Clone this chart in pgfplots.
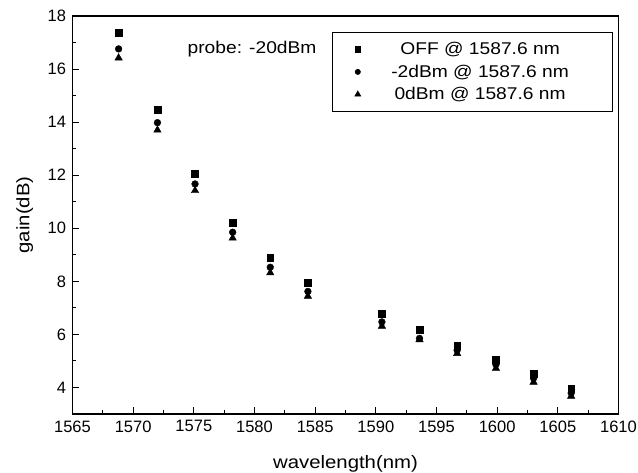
\documentclass[border=0pt]{standalone}
\usepackage{fontspec}
\setmainfont{Liberation Sans}
\newfontfamily\widefont[FakeStretch=1.13]{Liberation Sans}
\usepackage{pgfplots}
\pgfplotsset{compat=1.18}
\newcommand\lgt[1]{\makebox[214pt][c]{#1}}
\begin{document}
\begin{tikzpicture}
\begin{axis}[
  scale only axis, width=546pt, height=398pt,
  xmin=1565, xmax=1610, ymin=3, ymax=18,
  xtick={1565,1570,...,1610}, ytick={4,6,...,18},
  minor x tick num=1, minor y tick num=1,
  xtick pos=bottom, ytick pos=left,
  tick align=inside,
  major tick length=7pt, minor tick length=4pt,
  axis line style={line width=1.2pt},
  every tick/.style={black, line width=1pt},
  tick label style={font=\fontsize{16.5}{19}\selectfont},
  yticklabel style={xshift=-3pt},
  xticklabel style={yshift=-3pt},
  /pgf/number format/assume math mode=true,
  /pgf/number format/1000 sep={},
  xlabel={wavelength(nm)}, ylabel={gain(dB)},
  label style={font=\widefont\fontsize{18}{21}\selectfont},
  xlabel style={at={(axis description cs:0.5,-0.1357)}, anchor=base},
  ylabel style={at={(axis description cs:-0.0788,0.5)}, anchor=base},
  legend style={at={(rel axis cs:1,1)}, anchor=north east, xshift=-6pt, yshift=-16pt,
    draw=black, line width=0.8pt, inner xsep=23pt, inner ysep=8pt,
    cells={anchor=center, inner xsep=0pt, inner ysep=0pt, text height=12.5pt, text depth=3pt},
    column sep=10.5pt, row sep=4.5pt,
    font=\widefont\fontsize{17}{20}\selectfont},
  legend image post style={mark options={scale=0.75}},
]
\addplot[only marks, mark=square*, mark size=3.4pt, black] coordinates {
(1568.8,17.38) (1572.0,14.48) (1575.1,12.07) (1578.2,10.22) (1581.3,8.88) (1584.4,7.96)
(1590.5,6.77) (1593.6,6.18) (1596.7,5.58) (1599.9,5.06) (1603.0,4.53) (1606.1,3.96)};
\addlegendentry{\lgt{OFF @ 1587.6 nm}}
\addplot[only marks, mark=*, mark size=3.4pt, black] coordinates {
(1568.8,16.76) (1572.0,13.98) (1575.1,11.67) (1578.2,9.85) (1581.3,8.53) (1584.4,7.62)
(1590.5,6.47) (1593.6,5.85) (1596.7,5.40) (1599.9,4.86) (1603.0,4.35) (1606.1,3.79)};
\addlegendentry{\lgt{-2dBm @ 1587.6 nm}}
\addplot[only marks, mark=triangle*, mark size=4.3pt, black] coordinates {
(1568.8,16.42) (1572.0,13.70) (1575.1,11.42) (1578.2,9.63) (1581.3,8.32) (1584.4,7.44)
(1590.5,6.31) (1593.6,5.80) (1596.7,5.28) (1599.9,4.72) (1603.0,4.20) (1606.1,3.67)};
\addlegendentry{\lgt{0dBm @ 1587.6 nm}}
\node[font=\widefont\fontsize{17}{20}\selectfont, anchor=base] at (axis cs:1579.8,16.6) {probe: -20dBm};
\end{axis}
\pgfresetboundingbox
\path[use as bounding box] (-72.5pt,-58pt) rectangle (565.5pt,414pt);
\end{tikzpicture}
\end{document}
